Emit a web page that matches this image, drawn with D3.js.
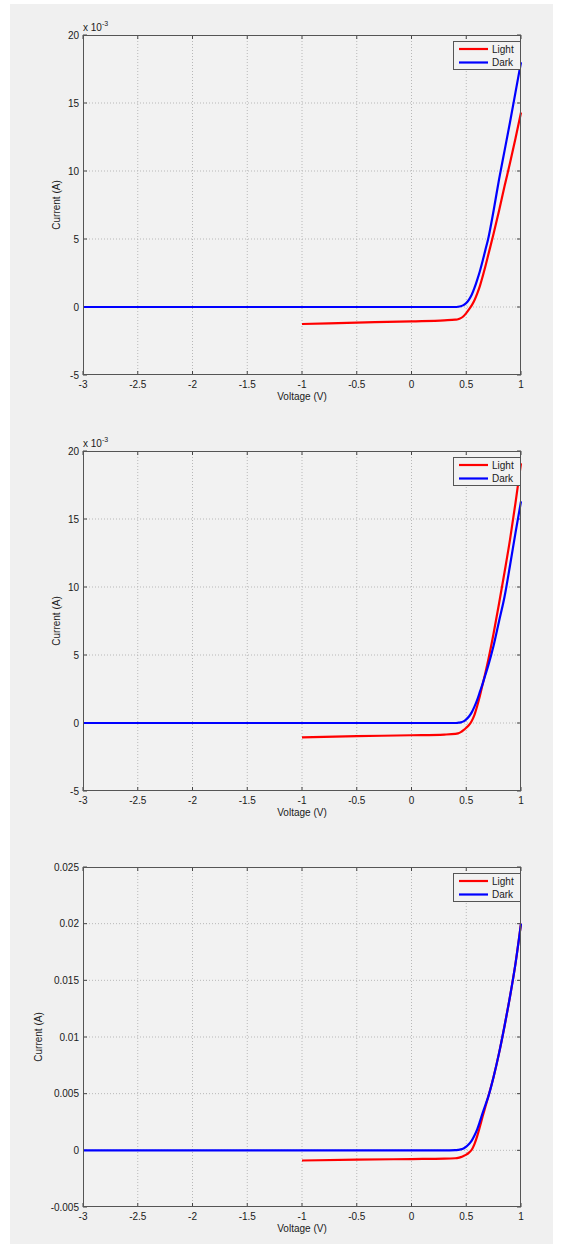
<!DOCTYPE html>
<html>
<head>
    <script src="https://d3js.org/d3.v7.min.js"></script>
    <title>IV curves</title>
</head>
<style>
    body { margin: 0; background-color: white; }
    text { font-family: 'Liberation Sans', Arial, sans-serif; fill: #1a1a1a; }
</style>
<body>
<div id="chart"></div>
</body>
</html>

<script>
  // current values are in mA, voltage in V
  var kneeV = [0.4, 0.425, 0.45, 0.475, 0.5, 0.525, 0.55, 0.575, 0.6, 0.625, 0.65, 0.675, 0.7, 0.75, 0.8, 0.85, 0.9, 0.95, 1.0];
  var lightV = [-1, -0.5, 0, 0.3].concat(kneeV);
  var darkV  = [-3, -2, -1, 0, 0.3].concat(kneeV);

  var light1I = [-1.25, -1.15, -1.05, -0.98,
                 -0.93, -0.9, -0.82, -0.68, -0.45, -0.18, 0.12, 0.5, 0.98, 1.55, 2.25, 3.0, 3.8, 5.4, 7.1, 8.9, 10.6, 12.4, 14.3];
  var dark1I  = [0, 0, 0, 0, 0,
                 0.0, 0.02, 0.06, 0.14, 0.3, 0.55, 0.9, 1.4, 2.0, 2.65, 3.4, 4.2, 5.0, 7.1, 9.4, 11.5, 13.6, 15.8, 18.0];

  var light2I = [-1.05, -0.97, -0.9, -0.85,
                 -0.8, -0.76, -0.67, -0.53, -0.35, -0.15, 0.15, 0.6, 1.25, 2.0, 2.85, 3.7, 4.6, 6.6, 8.8, 11.1, 13.5, 16.2, 19.1];
  var dark2I  = [0, 0, 0, 0, 0,
                 0.0, 0.02, 0.05, 0.12, 0.27, 0.48, 0.78, 1.2, 1.7, 2.3, 2.9, 3.55, 4.2, 5.7, 7.5, 9.3, 11.6, 14.0, 16.3];

  var light3I = [-0.9, -0.82, -0.77, -0.74,
                 -0.7, -0.67, -0.6, -0.5, -0.38, -0.2, 0.05, 0.55, 1.25, 2.1, 3.0, 3.85, 4.7, 6.5, 8.6, 11.0, 13.6, 16.5, 20.0];
  var dark3I  = [0, 0, 0, 0, 0,
                 0.02, 0.04, 0.08, 0.17, 0.32, 0.55, 0.85, 1.3, 1.85, 2.55, 3.3, 4.0, 4.7, 6.5, 8.6, 11.0, 13.6, 16.5, 20.0];

  var xTicks = [-3, -2.5, -2, -1.5, -1, -0.5, 0, 0.5, 1];
  var yTicks12 = [-5, 0, 5, 10, 15, 20];
  var yTicks3 = [-5, 0, 5, 10, 15, 20, 25];
  var yLabels3 = ["-0.005", "0", "0.005", "0.01", "0.015", "0.02", "0.025"];
  var legendNames = ["Light", "Dark"];
  var seriesColors = ["#ff0000", "#0000ff"];

  function pairs(vs, is) { return vs.map(function(v, i) { return {v: v, i: is[i]}; }); }

  var panels = [
      {top: 35, yDomain: [-5, 20], ticks: yTicks12, labels: null, exp: true, ylabX: 60,
       series: [pairs(lightV, light1I), pairs(darkV, dark1I)]},
      {top: 451, yDomain: [-5, 20], ticks: yTicks12, labels: null, exp: true, ylabX: 60,
       series: [pairs(lightV, light2I), pairs(darkV, dark2I)]},
      {top: 867, yDomain: [-5, 25], ticks: yTicks3, labels: yLabels3, exp: false, ylabX: 42,
       series: [pairs(lightV, light3I), pairs(darkV, dark3I)]}
  ];

  var W = 563, H = 1247;
  var left = 83, right = 521, ph = 340;

  var svg = d3.select("#chart").append("svg")
      .attr("width", W)
      .attr("height", H);

  svg.append("rect")
      .attr("x", 10).attr("y", 4)
      .attr("width", 543).attr("height", 1240)
      .style("fill", "#f0f0f0");

  var x = d3.scaleLinear().domain([-3, 1]).range([left, right]);

  panels.forEach(function(p) {
      var y = d3.scaleLinear().domain(p.yDomain).range([p.top + ph, p.top]);
      var g = svg.append("g");

      g.append("rect")
          .attr("x", left).attr("y", p.top)
          .attr("width", right - left).attr("height", ph)
          .style("fill", "#f2f2f2");

      // grid
      g.selectAll(".gx").data(xTicks.slice(1, -1)).enter().append("line")
          .attr("x1", function(d) { return x(d); }).attr("x2", function(d) { return x(d); })
          .attr("y1", p.top).attr("y2", p.top + ph)
          .attr("stroke", "#b8b8b8").attr("stroke-width", 1)
          .attr("stroke-dasharray", "1,2");
      g.selectAll(".gy").data(p.ticks.slice(1, -1)).enter().append("line")
          .attr("x1", left).attr("x2", right)
          .attr("y1", function(d) { return y(d); }).attr("y2", function(d) { return y(d); })
          .attr("stroke", "#b8b8b8").attr("stroke-width", 1)
          .attr("stroke-dasharray", "1,2");

      // inward ticks on all four sides
      var tl = 4;
      xTicks.forEach(function(t) {
          g.append("line").attr("x1", x(t)).attr("x2", x(t))
              .attr("y1", p.top + ph).attr("y2", p.top + ph - tl).attr("stroke", "#444");
          g.append("line").attr("x1", x(t)).attr("x2", x(t))
              .attr("y1", p.top).attr("y2", p.top + tl).attr("stroke", "#444");
      });
      p.ticks.forEach(function(t) {
          g.append("line").attr("x1", left).attr("x2", left + tl)
              .attr("y1", y(t)).attr("y2", y(t)).attr("stroke", "#444");
          g.append("line").attr("x1", right).attr("x2", right - tl)
              .attr("y1", y(t)).attr("y2", y(t)).attr("stroke", "#444");
      });

      // curves
      var line = d3.line()
          .x(function(d) { return x(d.v); })
          .y(function(d) { return y(d.i); })
          .curve(d3.curveMonotoneX);

      p.series.forEach(function(s, k) {
          g.append("path")
              .attr("d", line(s))
              .attr("fill", "none")
              .attr("stroke", seriesColors[k])
              .attr("stroke-width", 2.2)
              .attr("stroke-linejoin", "round");
      });

      // box
      g.append("rect")
          .attr("x", left + 0.5).attr("y", p.top + 0.5)
          .attr("width", right - left - 1).attr("height", ph - 1)
          .attr("fill", "none").attr("stroke", "#555").attr("stroke-width", 1);

      // tick labels
      g.selectAll(".xl").data(xTicks).enter().append("text")
          .attr("x", function(d) { return x(d); })
          .attr("y", p.top + ph + 13)
          .attr("text-anchor", "middle")
          .style("font-size", "10px")
          .text(function(d) { return d; });
      g.selectAll(".yl").data(p.ticks).enter().append("text")
          .attr("x", left - 4)
          .attr("y", function(d) { return y(d) + 3.5; })
          .attr("text-anchor", "end")
          .style("font-size", "10px")
          .text(function(d, i) { return p.labels ? p.labels[i] : d; });

      // axis labels
      g.append("text")
          .attr("x", (left + right) / 2)
          .attr("y", p.top + ph + 25)
          .attr("text-anchor", "middle")
          .style("font-size", "10px")
          .text("Voltage (V)");
      g.append("text")
          .attr("transform", "translate(" + p.ylabX + "," + (p.top + ph / 2) + ") rotate(-90)")
          .attr("text-anchor", "middle")
          .style("font-size", "10px")
          .text("Current (A)");

      if (p.exp) {
          var e = g.append("text")
              .attr("x", left)
              .attr("y", p.top - 4)
              .style("font-size", "10px");
          e.append("tspan").text("x 10");
          e.append("tspan").attr("dy", -5).style("font-size", "7px").text("-3");
      }

      // legend
      var lg = g.append("g").attr("transform", "translate(453," + (p.top + 6) + ")");
      lg.append("rect")
          .attr("x", 0.5).attr("y", 0.5).attr("width", 67).attr("height", 28)
          .attr("fill", "#f2f2f2").attr("stroke", "#555");
      legendNames.forEach(function(n, k) {
          lg.append("line")
              .attr("x1", 6).attr("x2", 35)
              .attr("y1", 8 + k * 13.5).attr("y2", 8 + k * 13.5)
              .attr("stroke", seriesColors[k]).attr("stroke-width", 2.2);
          lg.append("text")
              .attr("x", 39).attr("y", 11.5 + k * 13.5)
              .style("font-size", "10px")
              .text(n);
      });
  });
</script>
